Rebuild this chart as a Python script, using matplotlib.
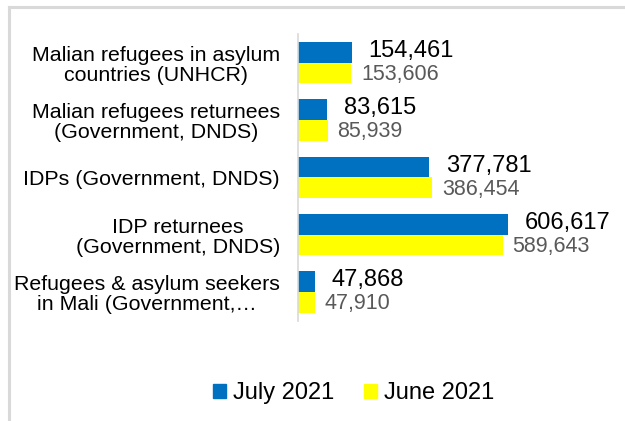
import matplotlib.pyplot as plt
from matplotlib.patches import Patch
from matplotlib.lines import Line2D

plt.rcParams["font.family"] = ["Liberation Sans", "DejaVu Sans"]

# données
categories = [
    "Malian refugees in asylum\ncountries (UNHCR)",
    "Malian refugees returnees\n(Government, DNDS)",
    "IDPs (Government, DNDS)",
    "IDP returnees\n(Government, DNDS)",
    "Refugees & asylum seekers\nin Mali (Government,\u2026",
]
july_2021 = [154461, 83615, 377781, 606617, 47868]
june_2021 = [153606, 85939, 386454, 589643, 47910]

blue = "#0070C0"
yellow = "#FFFF00"

fig = plt.figure(figsize=(6.25, 4.21), dpi=100)
ax = fig.add_axes([298 / 625, 1 - 320.6 / 421, 322 / 625, 286.6 / 421])

pos = list(range(len(categories)))
h = 0.36
ax.barh([p - h / 2 for p in pos], july_2021, height=h, color=blue)
ax.barh([p + h / 2 for p in pos], june_2021, height=h, color=yellow)

for p, v in zip(pos, july_2021):
    ax.annotate(f"{v:,}", (v, p - h / 2), xytext=(12, 1), textcoords="offset points",
                va="center", ha="left", fontsize=17, color="black")
for p, v in zip(pos, june_2021):
    ax.annotate(f"{v:,}", (v, p + h / 2), xytext=(7, -1), textcoords="offset points",
                va="center", ha="left", fontsize=15.5, color="#595959")

ax.set_xlim(0, 928000)
ax.set_ylim(len(categories) - 0.5, -0.5)
ax.set_yticks(pos)
ax.set_yticklabels(categories, fontsize=15.4, multialignment="center", linespacing=1.1)
ax.tick_params(axis="y", length=0, pad=13)
ax.set_xticks([])
for s in ["top", "right", "bottom"]:
    ax.spines[s].set_visible(False)
ax.spines["left"].set_color("#d9d9d9")
ax.spines["left"].set_linewidth(1.2)

# légende en bas
handles = [Patch(color=blue, label="July 2021"), Patch(color=yellow, label="June 2021")]
fig.legend(handles=handles, loc="center", bbox_to_anchor=(354 / 625, 1 - 393 / 421),
           ncol=2, frameon=False, fontsize=17, handlelength=0.55, handleheight=0.55,
           handletextpad=0.3, columnspacing=1.25)

# bordure du cadre (haut et gauche)
fig.add_artist(Line2D([9 / 625, 1], [1 - 7 / 421, 1 - 7 / 421], color="#d9d9d9", lw=2.2))
fig.add_artist(Line2D([9 / 625, 9 / 625], [0, 1 - 7 / 421], color="#d9d9d9", lw=2.2))

plt.savefig("out.png", dpi=100)
plt.close()
